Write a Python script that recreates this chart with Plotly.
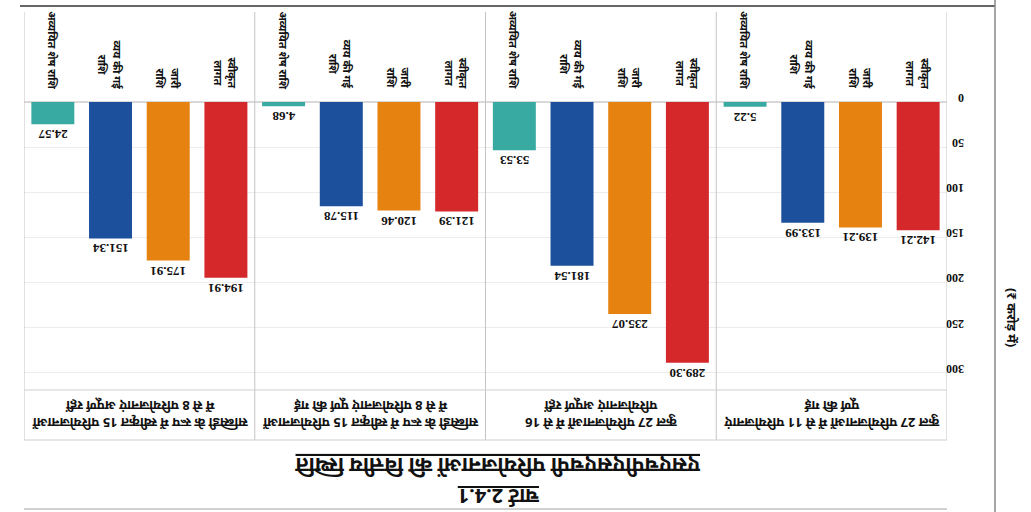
import plotly.graph_objects as go

# ---- data ----
groups = ["G1", "G2", "G3", "G4"]
group_labels = [
    "कुल 27 परियोजनाओं में से 11 परियोजनाएं<br>पूर्ण की गई",
    "कुल 27 परियोजनाओं में से 16<br>परियोजनाएं अपूर्ण रहीं",
    "सब्सिडी के रूप में स्वीकृत 15 परियोजनाओं<br>में से 8 परियोजनाएं पूर्ण की गई",
    "सब्सिडी के रूप में स्वीकृत 15 परियोजनाओं<br>में से 8 परियोजनाएं अपूर्ण रहीं",
]
series_names = ["स्वीकृत<br>लागत", "जारी<br>राशि", "व्यय की गई<br>राशि", "अव्ययित शेष राशि"]
series_values = [
    [142.21, 289.30, 121.39, 194.91],
    [139.21, 235.07, 120.46, 175.91],
    [133.99, 181.54, 115.78, 151.34],
    [5.22, 53.53, 4.68, 24.57],
]
series_text = [
    ["142.21", "289.30", "121.39", "194.91"],
    ["139.21", "235.07", "120.46", "175.91"],
    ["133.99", "181.54", "115.78", "151.34"],
    ["5.22", "53.53", "4.68", "24.57"],
]
colors = ["#d4282b", "#e6820f", "#1c4f9c", "#38aaa1"]
tick_vals = [0, 50, 100, 150, 200, 250, 300]
title_text = "<b><u>चार्ट 2.4.1</u></b>"
subtitle_text = "<b><u>एसएचपीएसएचपी परियोजनाओं की वित्तीय स्थिति</u></b>"
yaxis_title = "<b>(₹ करोड़ में)</b>"

W, H = 1031, 512
L, R, T, B = 24, 84, 102, 122
plot_h = H - T - B
plot_w = W - L - R

def py(pix):
    return (H - B - pix) / plot_h

def px(pix):
    return (pix - L) / plot_w

dev_font = "Noto Sans, Lohit Devanagari, sans-serif"
serif = "Liberation Serif, Times New Roman, serif"

fig = go.Figure()
for i in range(4):
    fig.add_trace(go.Bar(
        x=groups, y=series_values[i], name=series_names[i],
        marker=dict(color=colors[i], line=dict(width=0)),
        text=series_text[i], textposition="outside", textangle=180,
        textfont=dict(family=serif, size=13, color="#111", weight="bold"),
        cliponaxis=False, showlegend=False,
    ))

annotations = []
n = len(series_names)
for g in range(len(groups)):
    for i in range(n):
        annotations.append(dict(
            x=g - 0.5 + (i + 0.5) / n, xref="x", y=py(91), yref="paper",
            text=series_names[i], textangle=90, showarrow=False,
            xanchor="center", yanchor="bottom",
            font=dict(family=dev_font, size=11, color="#111", weight="bold"),
        ))
    annotations.append(dict(
        x=g, xref="x", y=py(415), yref="paper", text=group_labels[g],
        textangle=180, showarrow=False, xanchor="center", yanchor="middle",
        font=dict(family=dev_font, size=13, color="#111", weight="bold"),
    ))

annotations += [
    dict(x=px(499), xref="paper", y=py(497), yref="paper", text=title_text,
         textangle=180, showarrow=False, xanchor="center", yanchor="middle",
         font=dict(family=dev_font, size=20, color="#111")),
    dict(x=px(498), xref="paper", y=py(466), yref="paper", text=subtitle_text,
         textangle=180, showarrow=False, xanchor="center", yanchor="middle",
         font=dict(family=dev_font, size=21, color="#111")),
    dict(x=px(1012), xref="paper", y=py(318), yref="paper", text=yaxis_title,
         textangle=90, showarrow=False, xanchor="center", yanchor="middle",
         font=dict(family=dev_font, size=13, color="#111")),
]

shapes = []
for b in [-0.5, 0.5, 1.5, 2.5, 3.5]:
    shapes.append(dict(type="line", xref="x", yref="paper", x0=b, x1=b,
                       y0=py(440), y1=py(12), line=dict(color="#c4c4c4", width=1)))
for yy in [390, 440]:
    shapes.append(dict(type="line", xref="paper", yref="paper", x0=0, x1=1,
                       y0=py(yy), y1=py(yy), line=dict(color="#cfcfcf", width=1)))
shapes.append(dict(type="line", xref="paper", yref="paper", x0=px(20), x1=px(995),
                   y0=py(6), y1=py(6), line=dict(color="#666", width=2)))
shapes.append(dict(type="line", xref="paper", yref="paper", x0=px(995), x1=px(995),
                   y0=py(0), y1=py(512), line=dict(color="#888", width=1.5)))
shapes.append(dict(type="line", xref="paper", yref="paper", x0=0, x1=1,
                   y0=py(509), y1=py(509), line=dict(color="#d0d0d0", width=2)))

fig.update_layout(
    width=W, height=H, margin=dict(l=L, r=R, t=T, b=B),
    paper_bgcolor="white", plot_bgcolor="white",
    barmode="group", bargap=0, bargroupgap=0.255,
    annotations=annotations, shapes=shapes,
    xaxis=dict(range=[3.5, -0.5], showticklabels=False, showgrid=False,
               zeroline=False, showline=False, ticks=""),
    yaxis=dict(range=[319.5, 0], tickvals=tick_vals, side="right",
               tickangle=180, showgrid=True, gridcolor="#ececec",
               zeroline=True, zerolinecolor="#d9d9d9", showline=False,
               tickfont=dict(family=serif, size=12, color="#111", weight="bold"),
               ticklabelstandoff=16),
)

fig.write_html("out.html", config={"displayModeBar": False},
               post_script="document.body.style.margin='0';document.body.style.overflow='hidden';")
